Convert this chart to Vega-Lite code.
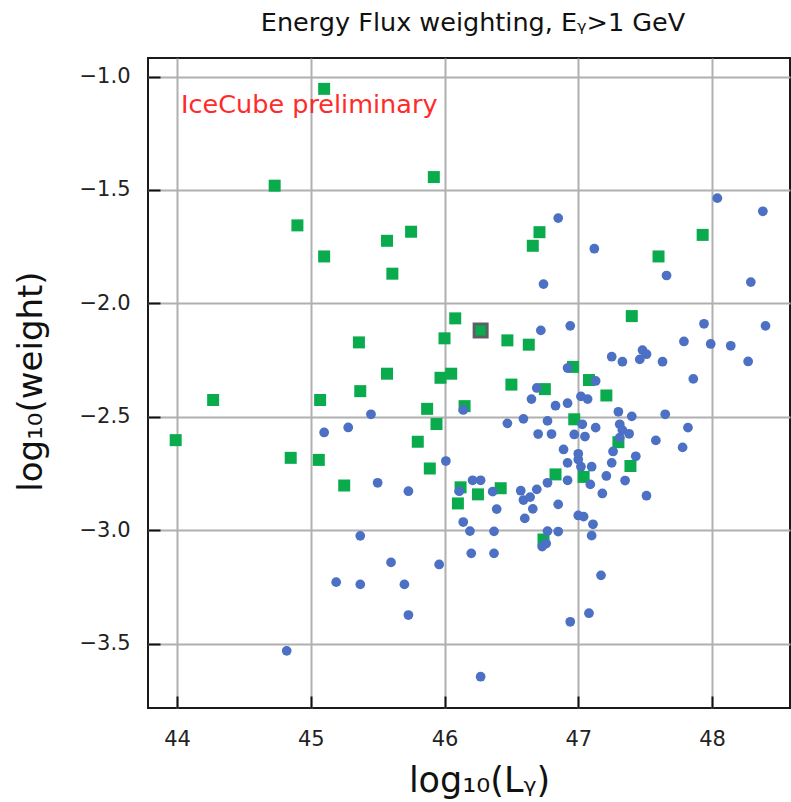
{
  "$schema": "https://vega.github.io/schema/vega-lite/v6.json",
  "width": 642,
  "height": 650,
  "autosize": {"type": "none"},
  "padding": {"left": 148, "top": 58, "right": 1, "bottom": 94},
  "background": "white",
  "config": {
    "font": "DejaVu Sans",
    "view": {"stroke": "#1a1a1a", "strokeWidth": 2},
    "axis": {
      "grid": true,
      "gridColor": "#b0b0b0",
      "gridWidth": 2,
      "domain": false,
      "ticks": true,
      "tickSize": -12,
      "tickWidth": 2,
      "tickColor": "#111111",
      "labelFontSize": 21,
      "labelColor": "#222222",
      "labelFont": "DejaVu Sans",
      "titleFont": "DejaVu Sans",
      "titleFontSize": 33,
      "titleFontWeight": "normal",
      "titleColor": "#111111"
    }
  },
  "title": {
    "text": "Energy Flux weighting, Eᵧ>1 GeV",
    "fontSize": 25.5,
    "fontWeight": "normal",
    "font": "DejaVu Sans",
    "color": "#111111",
    "offset": 25,
    "dy": 23,
    "dx": 4,
    "baseline": "alphabetic",
    "anchor": "middle"
  },
  "layer": [
    {
      "data": {"values": [
        {"logL": 45.10, "logW": -1.054}, {"logL": 44.73, "logW": -1.481}, {"logL": 45.92, "logW": -1.443},
        {"logL": 44.90, "logW": -1.656}, {"logL": 45.10, "logW": -1.793}, {"logL": 45.57, "logW": -1.724},
        {"logL": 45.75, "logW": -1.684}, {"logL": 45.61, "logW": -1.869}, {"logL": 46.08, "logW": -2.066},
        {"logL": 46.00, "logW": -2.154}, {"logL": 45.36, "logW": -2.172}, {"logL": 45.57, "logW": -2.310},
        {"logL": 45.37, "logW": -2.387}, {"logL": 45.97, "logW": -2.328}, {"logL": 46.05, "logW": -2.310},
        {"logL": 44.27, "logW": -2.426}, {"logL": 45.07, "logW": -2.426}, {"logL": 45.87, "logW": -2.465},
        {"logL": 46.15, "logW": -2.453}, {"logL": 45.94, "logW": -2.532}, {"logL": 43.99, "logW": -2.603},
        {"logL": 45.80, "logW": -2.610}, {"logL": 44.85, "logW": -2.681}, {"logL": 45.06, "logW": -2.690},
        {"logL": 45.89, "logW": -2.728}, {"logL": 45.25, "logW": -2.803}, {"logL": 46.12, "logW": -2.811},
        {"logL": 46.10, "logW": -2.882}, {"logL": 46.47, "logW": -2.163}, {"logL": 46.63, "logW": -2.182},
        {"logL": 46.71, "logW": -1.686}, {"logL": 46.66, "logW": -1.746}, {"logL": 47.60, "logW": -1.793},
        {"logL": 47.93, "logW": -1.698}, {"logL": 47.40, "logW": -2.056}, {"logL": 46.96, "logW": -2.280},
        {"logL": 47.08, "logW": -2.338}, {"logL": 47.21, "logW": -2.406}, {"logL": 46.50, "logW": -2.358},
        {"logL": 46.75, "logW": -2.378}, {"logL": 46.97, "logW": -2.511}, {"logL": 47.30, "logW": -2.612},
        {"logL": 47.39, "logW": -2.717}, {"logL": 46.83, "logW": -2.754}, {"logL": 47.04, "logW": -2.765},
        {"logL": 46.42, "logW": -2.815}, {"logL": 46.25, "logW": -2.842}, {"logL": 46.74, "logW": -3.041}
      ]},
      "mark": {"type": "point", "shape": "square", "filled": true, "size": 144, "color": "#0aab4d", "opacity": 1},
      "encoding": {
        "x": {
          "field": "logL", "type": "quantitative",
          "scale": {"domain": [43.783, 48.583], "nice": false, "zero": false},
          "axis": {
            "values": [44, 45, 46, 47, 48], "format": "d",
            "title": "log₁₀(Lᵧ)",
            "labelPadding": 32,
            "titleFontSize": 35,
            "titleX": 331, "titleY": 72, "titleBaseline": "middle", "titleAlign": "center", "titleAngle": 0
          }
        },
        "y": {
          "field": "logW", "type": "quantitative",
          "scale": {"domain": [-3.784, -0.918], "nice": false, "zero": false},
          "axis": {
            "values": [-3.5, -3.0, -2.5, -2.0, -1.5, -1.0], "format": ".1f",
            "title": "log₁₀(weight)",
            "labelPadding": 30,
            "titleFontSize": 34,
            "titleX": -117, "titleY": 323, "titleBaseline": "middle", "titleAlign": "center", "titleAngle": -90
          }
        }
      }
    },
    {
      "data": {"values": [{"logL": 46.27, "logW": -2.120}]},
      "mark": {"type": "point", "shape": "square", "filled": true, "size": 169, "color": "#0aab4d", "stroke": "#5b6068", "strokeWidth": 3, "opacity": 1},
      "encoding": {
        "x": {"field": "logL", "type": "quantitative"},
        "y": {"field": "logW", "type": "quantitative"}
      }
    },
    {
      "data": {"values": [
        {"logL": 46.14, "logW": -2.470}, {"logL": 45.45, "logW": -2.489}, {"logL": 45.28, "logW": -2.547},
        {"logL": 45.10, "logW": -2.569}, {"logL": 46.01, "logW": -2.695}, {"logL": 45.50, "logW": -2.791},
        {"logL": 45.73, "logW": -2.828}, {"logL": 46.11, "logW": -2.828}, {"logL": 46.14, "logW": -2.964},
        {"logL": 46.19, "logW": -3.004}, {"logL": 46.20, "logW": -3.102}, {"logL": 45.37, "logW": -3.025},
        {"logL": 45.60, "logW": -3.142}, {"logL": 45.96, "logW": -3.151}, {"logL": 45.19, "logW": -3.229},
        {"logL": 45.37, "logW": -3.239}, {"logL": 45.70, "logW": -3.239}, {"logL": 45.73, "logW": -3.374},
        {"logL": 44.82, "logW": -3.532}, {"logL": 46.27, "logW": -3.646}, {"logL": 46.94, "logW": -3.404},
        {"logL": 47.08, "logW": -3.366}, {"logL": 47.17, "logW": -3.199}, {"logL": 46.37, "logW": -3.102},
        {"logL": 46.37, "logW": -3.005}, {"logL": 46.77, "logW": -3.004}, {"logL": 46.85, "logW": -3.006},
        {"logL": 47.10, "logW": -3.024}, {"logL": 46.73, "logW": -3.072}, {"logL": 46.76, "logW": -3.059},
        {"logL": 46.60, "logW": -2.948}, {"logL": 47.00, "logW": -2.935}, {"logL": 47.04, "logW": -2.940},
        {"logL": 47.11, "logW": -2.974}, {"logL": 46.39, "logW": -2.907}, {"logL": 46.66, "logW": -2.906},
        {"logL": 46.85, "logW": -2.886}, {"logL": 46.59, "logW": -2.867}, {"logL": 46.64, "logW": -2.854},
        {"logL": 46.36, "logW": -2.830}, {"logL": 46.57, "logW": -2.826}, {"logL": 46.69, "logW": -2.820},
        {"logL": 46.77, "logW": -2.791}, {"logL": 46.92, "logW": -2.780}, {"logL": 47.09, "logW": -2.798},
        {"logL": 47.18, "logW": -2.838}, {"logL": 47.35, "logW": -2.781}, {"logL": 47.21, "logW": -2.761},
        {"logL": 47.51, "logW": -2.848}, {"logL": 46.21, "logW": -2.780}, {"logL": 46.27, "logW": -2.780},
        {"logL": 46.89, "logW": -2.644}, {"logL": 47.00, "logW": -2.663}, {"logL": 47.00, "logW": -2.688},
        {"logL": 46.92, "logW": -2.703}, {"logL": 47.02, "logW": -2.720}, {"logL": 47.10, "logW": -2.720},
        {"logL": 47.25, "logW": -2.703}, {"logL": 47.26, "logW": -2.653}, {"logL": 47.43, "logW": -2.674},
        {"logL": 47.58, "logW": -2.604}, {"logL": 47.78, "logW": -2.635}, {"logL": 47.82, "logW": -2.548},
        {"logL": 47.65, "logW": -2.489}, {"logL": 47.40, "logW": -2.498}, {"logL": 47.30, "logW": -2.478},
        {"logL": 47.31, "logW": -2.533}, {"logL": 47.33, "logW": -2.559}, {"logL": 47.38, "logW": -2.575},
        {"logL": 47.31, "logW": -2.592}, {"logL": 47.13, "logW": -2.548}, {"logL": 47.03, "logW": -2.533},
        {"logL": 47.05, "logW": -2.587}, {"logL": 46.97, "logW": -2.578}, {"logL": 46.80, "logW": -2.576},
        {"logL": 46.70, "logW": -2.576}, {"logL": 46.77, "logW": -2.518}, {"logL": 46.59, "logW": -2.509},
        {"logL": 46.47, "logW": -2.529}, {"logL": 46.83, "logW": -2.451}, {"logL": 46.92, "logW": -2.440},
        {"logL": 46.65, "logW": -2.422}, {"logL": 47.02, "logW": -2.410}, {"logL": 47.07, "logW": -2.422},
        {"logL": 46.69, "logW": -2.373}, {"logL": 46.92, "logW": -2.285}, {"logL": 47.13, "logW": -2.342},
        {"logL": 47.25, "logW": -2.235}, {"logL": 47.33, "logW": -2.257}, {"logL": 47.46, "logW": -2.247},
        {"logL": 47.48, "logW": -2.206}, {"logL": 47.51, "logW": -2.224}, {"logL": 47.63, "logW": -2.257},
        {"logL": 47.79, "logW": -2.168}, {"logL": 47.99, "logW": -2.179}, {"logL": 48.14, "logW": -2.187},
        {"logL": 48.27, "logW": -2.256}, {"logL": 48.40, "logW": -2.099}, {"logL": 47.94, "logW": -2.090},
        {"logL": 47.86, "logW": -2.333}, {"logL": 46.72, "logW": -2.119}, {"logL": 46.94, "logW": -2.099},
        {"logL": 46.74, "logW": -1.915}, {"logL": 46.85, "logW": -1.624}, {"logL": 47.12, "logW": -1.759},
        {"logL": 47.66, "logW": -1.877}, {"logL": 48.04, "logW": -1.536}, {"logL": 48.38, "logW": -1.594},
        {"logL": 48.29, "logW": -1.906}
      ]},
      "mark": {"type": "circle", "size": 95, "color": "#4c70c4", "opacity": 1},
      "encoding": {
        "x": {"field": "logL", "type": "quantitative"},
        "y": {"field": "logW", "type": "quantitative"}
      }
    },
    {
      "data": {"values": [{"logL": 44.03, "logW": -1.161, "label": "IceCube preliminary"}]},
      "mark": {"type": "text", "align": "left", "baseline": "alphabetic", "fontSize": 25.5, "font": "DejaVu Sans", "color": "#ff2a2a"},
      "encoding": {
        "x": {"field": "logL", "type": "quantitative"},
        "y": {"field": "logW", "type": "quantitative"},
        "text": {"field": "label"}
      }
    }
  ]
}
